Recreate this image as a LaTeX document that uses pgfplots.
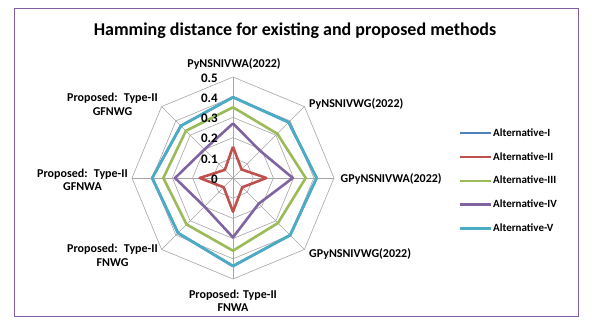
\documentclass[border=0pt]{standalone}
\usepackage{pgfplots}
\pgfplotsset{compat=1.18}
\usepackage{fontspec}
\setmainfont{Carlito}
\definecolor{altI}{HTML}{4F81BD}
\definecolor{altII}{HTML}{C0504D}
\definecolor{altIII}{HTML}{9BBB59}
\definecolor{altIV}{HTML}{8064A2}
\definecolor{altV}{HTML}{4BACC6}
\definecolor{gridc}{HTML}{A6A6A6}
\definecolor{framec}{HTML}{7F5FA0}
\begin{document}
\begin{tikzpicture}
\useasboundingbox (0,0) rectangle (592pt,325pt);
\fill[white] (0,0) rectangle (592pt,325pt);
\draw[framec, line width=0.9pt] (14pt,317pt) rectangle (578pt,9pt);
\begin{axis}[
  at={(233pt,147pt)}, anchor=center,
  scale only axis, width=202pt, height=202pt,
  xmin=-0.5, xmax=0.5, ymin=-0.5, ymax=0.5,
  hide axis, clip=false,
  legend style={at={(1.618,0.486)}, anchor=west, draw=none, fill=none,
    inner sep=0pt, font=\bfseries\fontsize{11}{13}\selectfont,
    row sep=13.4pt, nodes={inner sep=0.6pt}},
  legend cell align=left,
  legend image code/.code={\draw[#1, line width=2.6pt] (0pt,0pt) -- (31pt,0pt);},
]
\pgfplotsinvokeforeach{0.1,0.2,0.3,0.4,0.5}{
  \addplot[gridc, line width=0.6pt, forget plot, data cs=polar] coordinates
  {(90,#1)(45,#1)(0,#1)(-45,#1)(-90,#1)(-135,#1)(180,#1)(135,#1)(90,#1)};
}
\pgfplotsinvokeforeach{90,45,0,-45,-90,-135,180,135}{
  \addplot[gridc, line width=0.6pt, forget plot, data cs=polar] coordinates {(#1,0)(#1,0.5)};
}
% Alternative-I (hidden beneath Alternative-V)
\addplot[altI, line width=2.6pt, line join=round, data cs=polar] coordinates
 {(90,0.40)(45,0.39)(0,0.414)(-45,0.40)(-90,0.436)(-135,0.385)(180,0.40)(135,0.365)(90,0.40)};
\addlegendentry{Alternative-I}
\addplot[altII, line width=2.6pt, line join=round, data cs=polar] coordinates
 {(90,0.155)(45,0.06)(0,0.165)(-45,0.065)(-90,0.167)(-135,0.065)(180,0.165)(135,0.057)(90,0.155)};
\addlegendentry{Alternative-II}
\addplot[altIII, line width=2.6pt, line join=round, data cs=polar] coordinates
 {(90,0.35)(45,0.31)(0,0.36)(-45,0.315)(-90,0.36)(-135,0.325)(180,0.345)(135,0.33)(90,0.35)};
\addlegendentry{Alternative-III}
\addplot[altIV, line width=2.6pt, line join=round, data cs=polar] coordinates
 {(90,0.27)(45,0.19)(0,0.296)(-45,0.18)(-90,0.294)(-135,0.20)(180,0.287)(135,0.20)(90,0.27)};
\addlegendentry{Alternative-IV}
\addplot[altV, line width=2.6pt, line join=round, data cs=polar] coordinates
 {(90,0.40)(45,0.39)(0,0.414)(-45,0.40)(-90,0.436)(-135,0.385)(180,0.40)(135,0.365)(90,0.40)};
\addlegendentry{Alternative-V}
\end{axis}
% title
\node[font=\bfseries\fontsize{18}{21}\selectfont] at (295pt,294pt) {Hamming distance for existing and proposed methods};
% tick labels
\foreach \v/\t in {0/0,0.1/0.1,0.2/0.2,0.3/0.3,0.4/0.4,0.5/0.5}{
  \node[anchor=east, inner sep=0pt, font=\bfseries\fontsize{13}{15}\selectfont] at (218pt,{146pt+202pt*\v}) {\t};
}
% category labels
\begin{scope}[every node/.style={font=\bfseries\fontsize{12}{13.4}\selectfont, inner sep=0pt, align=center}]
\node at (234pt,261pt) {PyNSNIVWA(2022)};
\node[anchor=west] at (309pt,221pt) {PyNSNIVWG(2022)};
\node[anchor=west] at (340.5pt,145.7pt) {GPyNSNIVWA(2022)};
\node[anchor=west] at (309pt,71pt) {GPyNSNIVWG(2022)};
\node at (233pt,24pt) {Proposed: Type-II\\FNWA};
\node at (112.5pt,69.7pt) {Proposed:~ Type-II\\FNWG};
\node at (82.5pt,145.3pt) {Proposed:~ Type-II\\GFNWA};
\node at (112.5pt,220.7pt) {Proposed:~ Type-II\\GFNWG};
\end{scope}
\end{tikzpicture}
\end{document}
